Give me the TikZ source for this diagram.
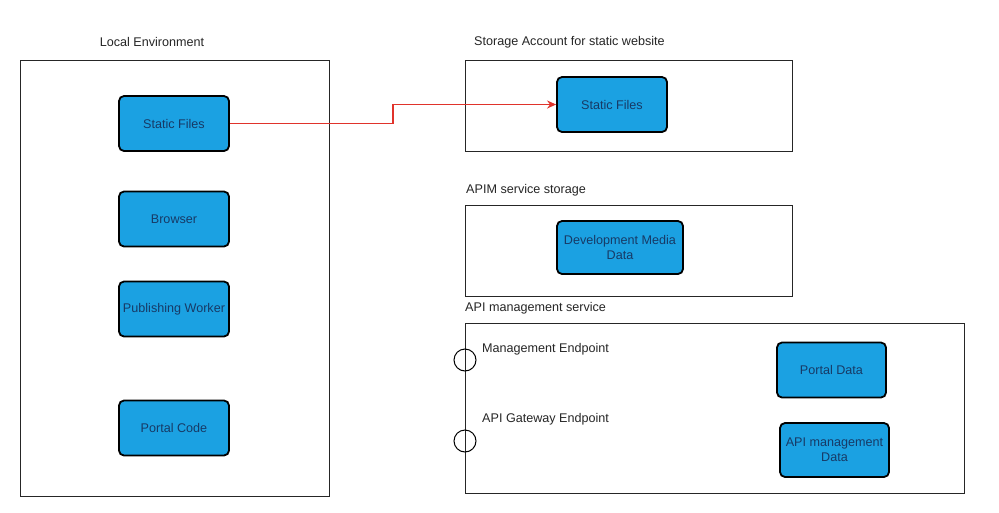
\documentclass[tikz,border=0pt]{standalone}
\usepackage{fontspec}
\setmainfont{Liberation Sans}
\usetikzlibrary{arrows.meta}
\definecolor{boxblue}{HTML}{1BA1E2}
\definecolor{boxtext}{HTML}{173A66}
\definecolor{arrowred}{HTML}{E0332B}
\begin{document}
\begin{tikzpicture}[x=1pt,y=-1pt,
  container/.style={draw=black!85,line width=0.9pt},
  svc/.style={draw=black,line width=1.8pt,fill=boxblue,rounded corners=5pt,
    minimum width=110pt,minimum height=55pt,inner sep=0pt,align=center,
    font=\fontsize{12.6}{15}\selectfont,text=boxtext},
  lbl/.style={font=\fontsize{12.6}{15}\selectfont,text=black!85,inner sep=0pt},
  port/.style={draw=black,line width=1pt,circle,minimum size=22pt,inner sep=0pt}]
\useasboundingbox (0,0) rectangle (999,512);
\fill[white] (0,0) rectangle (999,512);
% containers
\draw[container] (20,60) rectangle (329,496);
\draw[container] (465,60) rectangle (792,151);
\draw[container] (465,205) rectangle (792,296);
\draw[container] (465,323) rectangle (964,493);
% labels
\node[lbl] (lenv) at (152,42) {Local Environment};
\node[lbl,anchor=west] (lsa) at (474,42) {Storage Account for static website};
\node[lbl,anchor=west] (lapims) at (466,190) {APIM service storage};
\node[lbl,anchor=west] (lapim) at (465,308) {API management service};
\node[lbl,anchor=west] (lme) at (482,349) {Management Endpoint};
\node[lbl,anchor=west] (lgw) at (482,419) {API Gateway Endpoint};
% boxes
\node[svc] (sf1) at (174,123.5) {Static Files};
\node[svc] (br) at (174,219) {Browser};
\node[svc] (pw) at (174,309) {Publishing Worker};
\node[svc] (pc) at (174,428) {Portal Code};
\node[svc] (sf2) at (612,104.5) {Static Files};
\node[svc,minimum width=126pt,minimum height=53pt] (dmd) at (620,247.5) {Development Media\\Data};
\node[svc,minimum width=109pt] (pd) at (831.5,370) {Portal Data};
\node[svc,minimum width=109pt,minimum height=54pt] (amd) at (834.5,450) {API management\\Data};
% ports
\node[port] (p1) at (465,360) {};
\node[port] (p2) at (465,441) {};
% arrow
\draw[arrowred,line width=1.6pt,-{Stealth[length=9pt,width=8pt]}] (sf1.east) -- (393,123.5) -- (393,104.5) -- (sf2.west);
\end{tikzpicture}
\end{document}
